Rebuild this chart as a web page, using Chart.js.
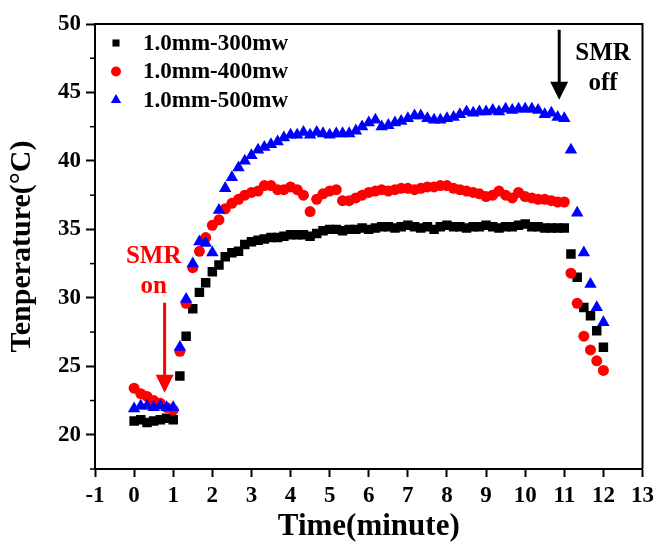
<!DOCTYPE html>
<html>
<head>
<meta charset="utf-8">
<style>
  html, body { margin: 0; padding: 0; background: #fff; }
  #wrap { width: 659px; height: 542px; }
</style>
<script src="https://cdn.jsdelivr.net/npm/chart.js@4/dist/chart.umd.min.js"></script>
</head>
<body>
<div id="wrap"><canvas id="chart" width="659" height="542"></canvas></div>
<script>
// sample times, minutes (10 s steps)
const times = [0, 0.17, 0.33, 0.5, 0.67, 0.83, 1, 1.17, 1.33, 1.5, 1.67, 1.83,
  2, 2.17, 2.33, 2.5, 2.67, 2.83, 3, 3.17, 3.33, 3.5, 3.67, 3.83,
  4, 4.17, 4.33, 4.5, 4.67, 4.83, 5, 5.17, 5.33, 5.5, 5.67, 5.83,
  6, 6.17, 6.33, 6.5, 6.67, 6.83, 7, 7.17, 7.33, 7.5, 7.67, 7.83,
  8, 8.17, 8.33, 8.5, 8.67, 8.83, 9, 9.17, 9.33, 9.5, 9.67, 9.83,
  10, 10.17, 10.33, 10.5, 10.67, 10.83, 11, 11.17, 11.33, 11.5, 11.67, 11.83, 12];

const temp300 = [21.0, 21.1, 20.9, 21.0, 21.1, 21.2, 21.1,
  24.3, 27.2, 29.2, 30.4, 31.1, 31.9, 32.4, 33.0, 33.3, 33.4, 33.9,
  34.1, 34.2, 34.3, 34.4, 34.4, 34.5, 34.6, 34.6, 34.6, 34.5, 34.7, 34.9,
  35.0, 35.0, 34.9, 35.0, 35.0, 35.1, 35.0, 35.1, 35.2, 35.2, 35.1, 35.2,
  35.3, 35.2, 35.1, 35.2, 35.0, 35.2, 35.3, 35.2, 35.2, 35.1, 35.2, 35.2,
  35.3, 35.2, 35.1, 35.2, 35.2, 35.3, 35.4, 35.2, 35.2, 35.1, 35.1, 35.1,
  35.1, 33.2, 31.5, 29.3, 28.7, 27.6, 26.4];

const temp400 = [23.4, 23.0, 22.8, 22.5, 22.3, 22.0, 21.8,
  26.1, 29.6, 32.2, 33.4, 34.4, 35.3, 35.7, 36.5, 36.9, 37.2, 37.5,
  37.7, 37.8, 38.2, 38.2, 37.9, 37.9, 38.1, 37.9, 37.5, 36.3, 37.2, 37.6,
  37.8, 37.9, 37.1, 37.1, 37.3, 37.5, 37.7, 37.8, 37.9, 37.8, 37.9, 38.0,
  38.0, 37.9, 38.0, 38.1, 38.1, 38.2, 38.2, 38.0, 37.9, 37.8, 37.7, 37.6,
  37.4, 37.5, 37.8, 37.5, 37.3, 37.7, 37.4, 37.3, 37.2, 37.2, 37.1, 37.0,
  37.0, 31.8, 29.6, 27.2, 26.2, 25.4, 24.7];

const temp500 = [21.9, 22.1, 22.1, 22.0, 22.1, 22.0, 22.0,
  26.4, 29.9, 32.5, 34.1, 34.0, 33.3, 36.4, 38.0, 38.8, 39.5, 40.0,
  40.4, 40.8, 41.0, 41.2, 41.4, 41.7, 41.9, 41.9, 42.1, 41.9, 42.1, 42.0,
  41.9, 42.0, 42.0, 42.0, 42.2, 42.5, 42.8, 43.0, 42.5, 42.6, 42.8, 42.9,
  43.1, 43.3, 43.3, 43.1, 43.0, 43.0, 43.1, 43.2, 43.4, 43.6, 43.5, 43.6,
  43.6, 43.7, 43.6, 43.8, 43.7, 43.8, 43.8, 43.8, 43.7, 43.4, 43.5, 43.2,
  43.1, 40.8, 36.2, 33.3, 31.0, 29.3, 28.2];

const seriesLabels = ['1.0mm-300mw', '1.0mm-400mw', '1.0mm-500mw'];
const xTicks = [-1, 0, 1, 2, 3, 4, 5, 6, 7, 8, 9, 10, 11, 12, 13];
const yTicks = [20, 25, 30, 35, 40, 45, 50];

const FONT = '"Liberation Serif", "Times New Roman", serif';

function toPoints(values) {
  return values.map((v, i) => ({ x: times[i], y: v }));
}

// frame, minor y ticks, legend and the SMR on/off notes
const extras = {
  id: 'extras',
  afterDraw(chart) {
    const ctx = chart.ctx;
    const area = chart.chartArea;
    const xs = chart.scales.x;
    const ys = chart.scales.y;

    ctx.save();
    ctx.strokeStyle = '#000';
    ctx.lineWidth = 2;
    ctx.beginPath();
    ctx.moveTo(area.left, area.top);
    ctx.lineTo(area.right, area.top);
    ctx.lineTo(area.right, area.bottom);
    ctx.stroke();

    // minor ticks halfway between the labelled ones
    ctx.lineWidth = 1.5;
    for (let i = 0; i < yTicks.length; i++) {
      const py = ys.getPixelForValue(yTicks[i] - 2.5);
      ctx.beginPath();
      ctx.moveTo(area.left - 5, py);
      ctx.lineTo(area.left, py);
      ctx.stroke();
    }

    // legend
    ctx.font = 'bold 23px ' + FONT;
    ctx.textBaseline = 'middle';
    ctx.textAlign = 'left';
    chart.data.datasets.forEach((ds, i) => {
      const lx = area.left + 21;
      const ly = area.top + 19 + i * 28.5;
      ctx.fillStyle = ds.backgroundColor;
      ctx.strokeStyle = ds.borderColor;
      Chart.helpers.drawPoint(ctx, {
        pointStyle: ds.pointStyle,
        radius: ds.pointStyle === 'triangle' ? 6 : (ds.pointStyle === 'rect' ? 5 : 5),
        rotation: 0, borderWidth: 0
      }, lx, ly);
      ctx.fillStyle = '#000';
      ctx.fillText(ds.label, lx + 27, ly + 1);
    });

    // notes with arrows
    const notes = [
      { color: '#ff0000', lines: ['SMR', 'on'], x: 0.5, y: [32.56, 30.37], arrowX: 0.78, from: 29.64, to: 23.07 },
      { color: '#000000', lines: ['SMR', 'off'], x: 11.99, y: [47.39, 45.2], arrowX: 10.87, from: 49.58, to: 44.47 }
    ];
    notes.forEach(n => {
      ctx.fillStyle = n.color;
      ctx.strokeStyle = n.color;
      ctx.font = 'bold 25px ' + FONT;
      ctx.textAlign = 'center';
      ctx.textBaseline = 'alphabetic';
      n.lines.forEach((t, k) => ctx.fillText(t, xs.getPixelForValue(n.x), ys.getPixelForValue(n.y[k])));
      const ax = xs.getPixelForValue(n.arrowX);
      const y0 = ys.getPixelForValue(n.from);
      const y1 = ys.getPixelForValue(n.to);
      ctx.lineWidth = 3;
      ctx.beginPath();
      ctx.moveTo(ax, y0);
      ctx.lineTo(ax, y1 - 16);
      ctx.stroke();
      ctx.beginPath();
      ctx.moveTo(ax - 9, y1 - 18);
      ctx.lineTo(ax + 9, y1 - 18);
      ctx.lineTo(ax, y1);
      ctx.closePath();
      ctx.fill();
    });
    ctx.restore();
  }
};

const ctx = document.getElementById('chart').getContext('2d');
new Chart(ctx, {
  type: 'scatter',
  data: {
    datasets: [
      {
        label: seriesLabels[0], data: toPoints(temp300), pointStyle: 'rect', pointRadius: 6.7,
        backgroundColor: '#000000', borderColor: '#000000', borderWidth: 0, order: 2
      },
      {
        label: seriesLabels[1], data: toPoints(temp400), pointStyle: 'circle', pointRadius: 5.5,
        backgroundColor: '#ff0000', borderColor: '#ff0000', borderWidth: 0, order: 1
      },
      {
        label: seriesLabels[2], data: toPoints(temp500), pointStyle: 'triangle', pointRadius: 7.2,
        backgroundColor: '#0000ff', borderColor: '#0000ff', borderWidth: 0, order: 0
      }
    ]
  },
  options: {
    responsive: false,
    animation: false,
    devicePixelRatio: 1,
    layout: { padding: { left: 0, top: 24, right: 14, bottom: 0 } },
    plugins: {
      legend: { display: false },
      tooltip: { enabled: false }
    },
    scales: {
      x: {
        type: 'linear',
        min: -1,
        max: 13,
        afterBuildTicks: scale => { scale.ticks = xTicks.map(v => ({ value: v })); },
        afterFit: scale => { scale.height = 73; },
        grid: { drawOnChartArea: false, drawTicks: true, tickLength: 8, tickWidth: 2, color: '#000' },
        border: { display: true, color: '#000', width: 2 },
        ticks: { color: '#000', padding: 5, maxRotation: 0, font: { family: FONT, size: 23, weight: 'bold' } },
        title: {
          display: true, text: 'Time(minute)', color: '#000',
          padding: { top: 0, bottom: 0 },
          font: { family: FONT, size: 31, weight: 'bold', lineHeight: 1 }
        }
      },
      y: {
        type: 'linear',
        min: 17.5,
        max: 50,
        afterBuildTicks: scale => { scale.ticks = yTicks.map(v => ({ value: v })); },
        afterFit: scale => { scale.width = 95; },
        grid: { drawOnChartArea: false, drawTicks: true, tickLength: 9, tickWidth: 2, color: '#000' },
        border: { display: true, color: '#000', width: 2 },
        ticks: { color: '#000', padding: 5, font: { family: FONT, size: 23, weight: 'bold' } },
        title: {
          display: true, text: 'Tenperature(°C)', color: '#000',
          padding: { top: 6, bottom: 0 },
          font: { family: FONT, size: 30, weight: 'bold', lineHeight: 1.1 }
        }
      }
    }
  },
  plugins: [extras]
});
</script>
</body>
</html>
